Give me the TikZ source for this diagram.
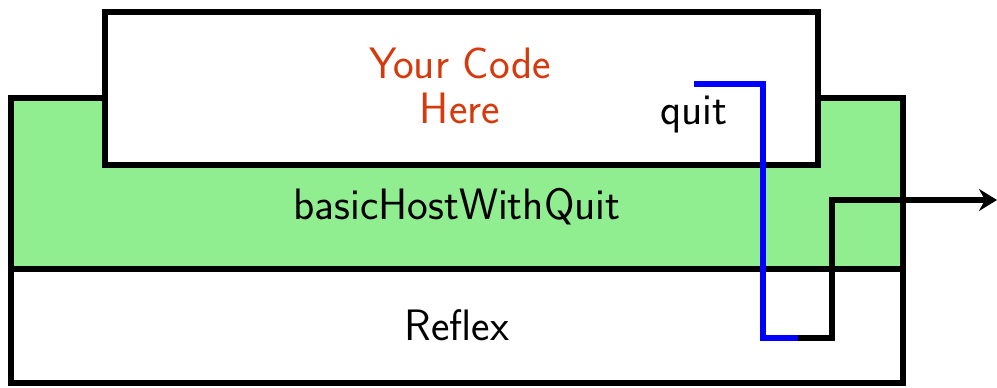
\documentclass[tikz,border=0pt]{standalone}
\usetikzlibrary{arrows.meta}
\definecolor{boxgreen}{HTML}{90EE90}
\definecolor{codered}{RGB}{214,58,12}
\begin{document}
\begin{tikzpicture}[x=0.5pt,y=-0.5pt,
  box/.style={draw=black,line width=2.6pt,inner sep=0pt,outer sep=0pt},
  lbl/.style={font=\sffamily\fontsize{22}{22.5}\selectfont,align=center,inner sep=0pt},
  wire/.style={line width=2.6pt}]
\useasboundingbox (0,0) rectangle (997,387);
\node[box,fill=boxgreen,minimum width=446pt,minimum height=85.5pt] (host) at (457,183.5) {};
\node[box,fill=white,minimum width=356.5pt,minimum height=76.5pt] (code) at (461.5,88.5) {};
\node[box,fill=white,minimum width=446pt,minimum height=57pt] (reflex) at (457,326) {};
\node[lbl,text=codered] (codetxt) at (460,86) {Your Code\\Here};
\node[lbl] (hosttxt) at (457,207) {basicHostWithQuit};
\node[lbl] (reflextxt) at (457,325) {Reflex};
\node[lbl] (quit) at (694,115) {quit};
\coordinate (qs) at (694,84);
\coordinate (qc) at (763,84);
\coordinate (qb) at (763,338);
\coordinate (j) at (798,338);
\coordinate (jb) at (832,338);
\coordinate (jt) at (832,200);
\coordinate (out) at (997,200);
\draw[wire,blue] (qs) -- (qc) -- (qb) -- (j);
\draw[wire,-{Stealth[length=9pt,width=11pt,inset=3pt]}] (j) -- (jb) -- (jt) -- (out);
\end{tikzpicture}
\end{document}
